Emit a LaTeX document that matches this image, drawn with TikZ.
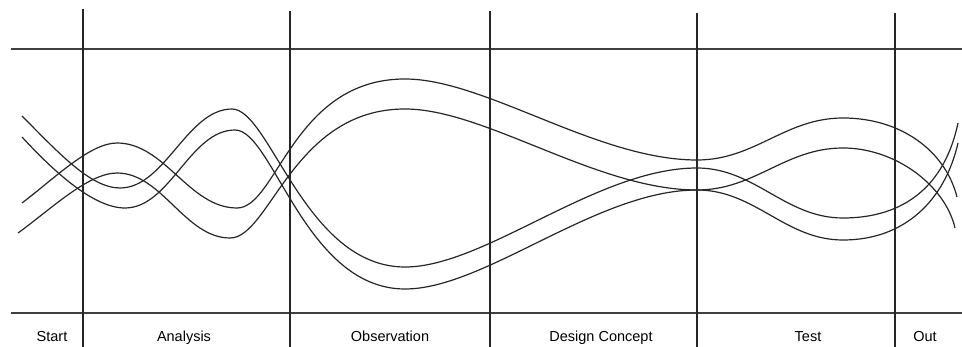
\documentclass[tikz,border=0pt]{standalone}
\usepackage{fontspec}
\setmainfont{Liberation Sans}
\begin{document}
\begin{tikzpicture}[x=1pt,y=-1pt,
  curve/.style={line width=1.2pt, black!85, line join=round},
  vrule/.style={line width=1.1pt, black!85},
  hrule/.style={line width=1.5pt, black!75},
  lbl/.style={font=\fontsize{14.5}{16}\selectfont, anchor=base, inner sep=0pt}]
\useasboundingbox (0,0) rectangle (962,347);
% horizontal rules
\draw[hrule] (11,49) -- (962,49);
\draw[hrule] (11,313) -- (962,313);
% vertical dividers
\draw[vrule] (83,9) -- (83,347);
\draw[vrule] (290,11) -- (290,347);
\draw[vrule] (490,11) -- (490,347);
\draw[vrule] (697,13) -- (697,347);
\draw[vrule] (895,13) -- (895,347);
% labels
\node[lbl] (start) at (52,342) {Start};
\node[lbl] (analysis) at (184,342) {Analysis};
\node[lbl] (observation) at (390,342) {Observation};
\node[lbl] (design) at (601,342) {Design Concept};
\node[lbl] (test) at (808,342) {Test};
\node[lbl] (out) at (925,342) {Out};
% curves
\draw[curve] (22,116) .. controls (57,151) and (90,188) .. (120,188)
  .. controls (165,188) and (187,109) .. (232,109)
  .. controls (270,109) and (305,267) .. (405,267)
  .. controls (485,267) and (597,168) .. (697,168)
  .. controls (755,168) and (785,218) .. (843,218)
  .. controls (905,218) and (945,185) .. (958,123);
\draw[curve] (22,137) .. controls (57,175) and (95,208) .. (125,208)
  .. controls (170,208) and (190,130) .. (235,130)
  .. controls (273,130) and (305,289) .. (405,289)
  .. controls (485,289) and (597,190) .. (697,190)
  .. controls (755,190) and (785,240) .. (843,240)
  .. controls (905,240) and (945,200) .. (958,143);
\draw[curve] (22,203) .. controls (55,178) and (90,143) .. (117,143)
  .. controls (165,143) and (189,208) .. (237,208)
  .. controls (277,208) and (293,79) .. (405,79)
  .. controls (485,79) and (597,160) .. (697,160)
  .. controls (755,160) and (785,118) .. (843,118)
  .. controls (900,118) and (945,150) .. (957,197);
\draw[curve] (18,233) .. controls (50,210) and (88,173) .. (117,173)
  .. controls (162,173) and (185,238) .. (230,238)
  .. controls (270,238) and (293,109) .. (405,109)
  .. controls (485,109) and (597,190) .. (697,190)
  .. controls (755,190) and (785,148) .. (843,148)
  .. controls (895,148) and (945,185) .. (955,228);
\end{tikzpicture}
\end{document}
